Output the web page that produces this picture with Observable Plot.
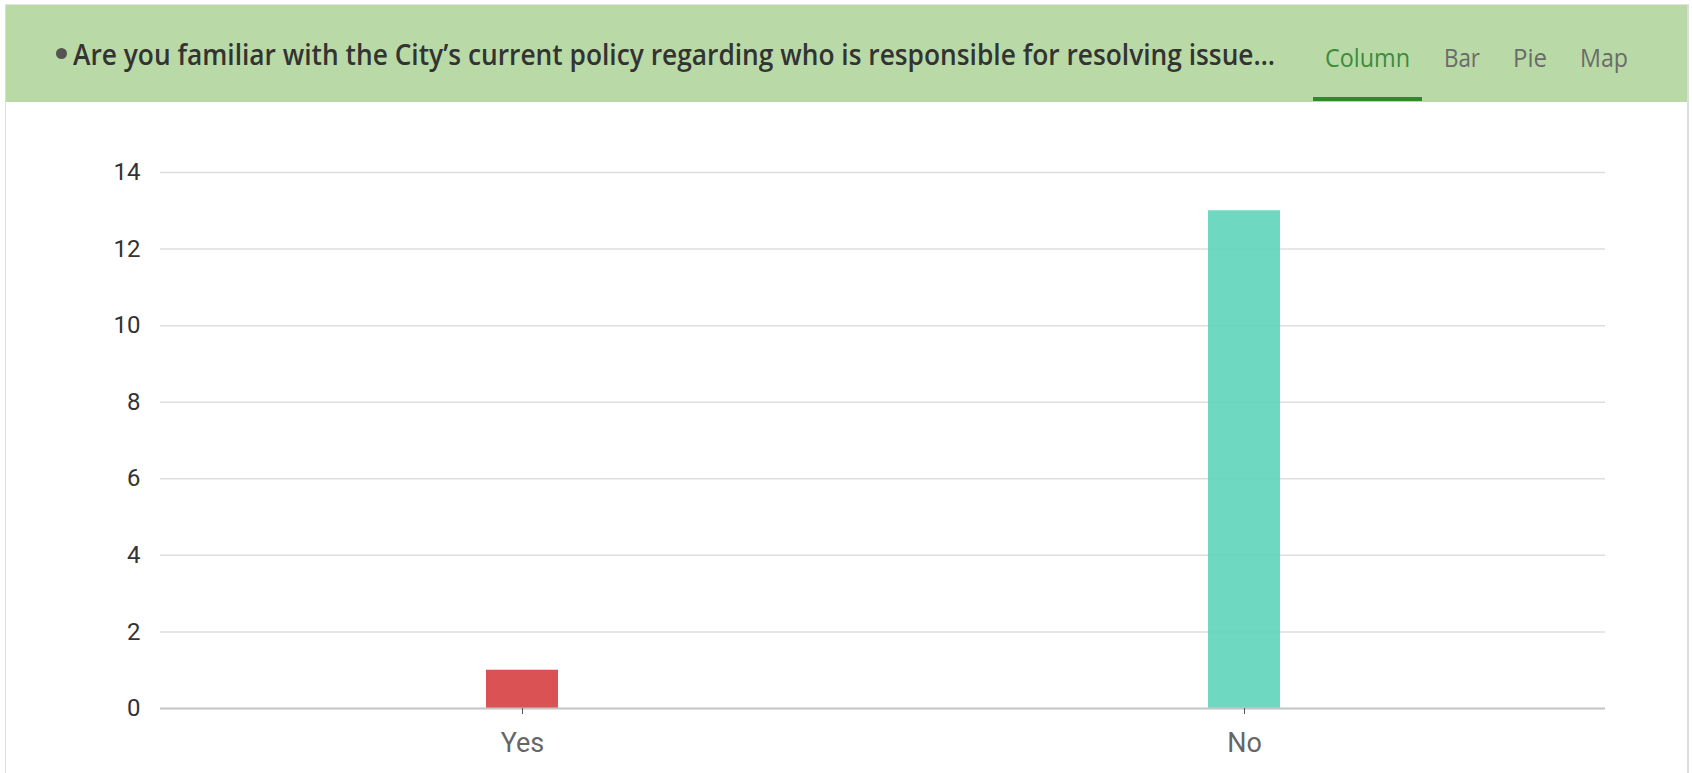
<!DOCTYPE html>
<html><head><meta charset="utf-8">
<script src="https://cdn.jsdelivr.net/npm/d3@7"></script>
<script src="https://cdn.jsdelivr.net/npm/@observablehq/plot@0.6"></script>
<style>
html,body{margin:0;padding:0;background:#fff;}
body{width:1692px;height:773px;overflow:hidden;position:relative;font-family:Roboto,"Liberation Sans",sans-serif;}
#card{position:absolute;left:5px;top:4px;width:1684px;height:775px;border-left:1px solid #dcdcdc;border-right:2px solid #dcdcdc;border-top:1px solid #e4e4e4;box-sizing:border-box;}
#header{position:absolute;left:6px;top:5px;width:1681px;height:97px;background:#b9daa6;}
#bullet{position:absolute;left:56px;top:48px;width:11px;height:11px;border-radius:50%;background:#555;}
#title{position:absolute;left:73px;top:34px;font-family:"Open Sans","DejaVu Sans",sans-serif;font-weight:600;font-size:28px;color:#333;white-space:nowrap;line-height:40px;transform-origin:0 50%;}
.tab{position:absolute;top:39px;font-family:"Open Sans","DejaVu Sans",sans-serif;font-weight:500;font-size:25px;line-height:36px;color:#6b6b6b;white-space:nowrap;transform-origin:0 50%;}
.tab.active{color:#3c8c3a;}
#underline{position:absolute;left:1313px;top:97px;width:109px;height:4px;background:#2f8a2d;}
#chart{position:absolute;left:0;top:103px;}
</style>
</head><body>
<div id="card"></div>
<div id="header"></div>
<div id="bullet"></div>
<div id="title"></div>
<div id="tabs"></div>
<div id="underline"></div>
<div id="chart"></div>
<script>
const titleText = "Are you familiar with the City\u2019s current policy regarding who is responsible for resolving issue\u2026";
const tabs = ["Column", "Bar", "Pie", "Map"];
const tabLeft = [1325, 1444, 1513, 1580];
const tabWidth = [85, 36, 34, 48];
const categories = ["Yes", "No"];
const counts = [1, 13];
const barColors = ["#d63f40", "#5fd4b9"];
const yTicks = [0, 2, 4, 6, 8, 10, 12, 14];

function fitWidth(el, w) {
  const m = el.getBoundingClientRect().width;
  if (m > 0) el.style.transform = "scaleX(" + (w / m) + ")";
}

const titleEl = document.getElementById("title");
titleEl.textContent = titleText;
fitWidth(titleEl, 1202);

const tabsEl = document.getElementById("tabs");
tabs.forEach((t, i) => {
  const d = document.createElement("div");
  d.className = "tab" + (i === 0 ? " active" : "");
  d.style.left = tabLeft[i] + "px";
  d.textContent = t;
  tabsEl.appendChild(d);
  fitWidth(d, tabWidth[i]);
});

const data = categories.map((c, i) => ({category: c, count: counts[i]}));

const chart = Plot.plot({
  width: 1692,
  height: 670,
  marginLeft: 160,
  marginRight: 87,
  marginTop: 69,
  marginBottom: 65,
  style: {fontFamily: "Roboto, 'Liberation Sans', sans-serif", background: "transparent"},
  x: {domain: categories, padding: 0, label: null},
  y: {domain: [0, 14], label: null},
  color: {domain: categories, range: barColors},
  marks: [
    Plot.gridY(yTicks, {stroke: "#dedede", strokeOpacity: 1, strokeWidth: 1.5}),
    Plot.barY(data, {x: "category", y: "count", fill: "category", fillOpacity: 0.9, insetLeft: 325, insetRight: 325}),
    Plot.ruleY([0], {stroke: "#c6c6c6", strokeWidth: 2}),
    Plot.axisY(yTicks, {tickSize: 0, tickPadding: 20, fontSize: 24, color: "#333", label: null}),
    Plot.axisX({tickSize: 6, tickPadding: 18, fontSize: 27, color: "#666", stroke: "#555", label: null})
  ]
});
document.getElementById("chart").appendChild(chart);
</script>
</body></html>
